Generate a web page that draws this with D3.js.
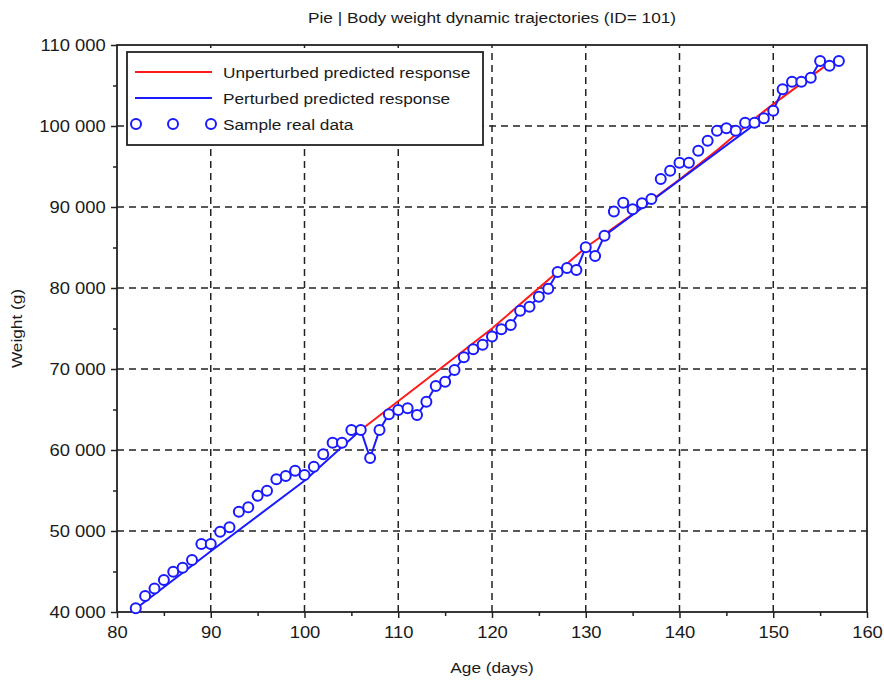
<!DOCTYPE html>
<html>
<head>
<meta charset="utf-8">
<script src="https://cdn.jsdelivr.net/npm/d3@7"></script>
<style>
  html, body { margin: 0; padding: 0; background: #fff; }
  svg { display: block; font-family: "Liberation Sans", Arial, sans-serif; }
</style>
</head>
<body>
<svg id="chart" width="884" height="682"></svg>
<script>
// ---- Data ----
const title = "Pie | Body weight dynamic trajectories (ID= 101)";
const xLabel = "Age (days)";
const yLabel = "Weight (g)";
const legendLabels = ["Unperturbed predicted response", "Perturbed predicted response", "Sample real data"];

const xTicks = [80, 90, 100, 110, 120, 130, 140, 150, 160];
const yTicks = [40000, 50000, 60000, 70000, 80000, 90000, 100000, 110000];
const xMinorTicks = [85, 95, 105, 115, 125, 135, 145, 155];
const yMinorTicks = [45000, 55000, 65000, 75000, 85000, 95000, 105000];

// Sample real data (age in days, weight in g)
const sampleAges = [82, 83, 84, 85, 86, 87, 88, 89, 90, 91,
  92, 93, 94, 95, 96, 97, 98, 99, 100, 101,
  102, 103, 104, 105, 106, 107, 108, 109, 110, 111,
  112, 113, 114, 115, 116, 117, 118, 119, 120, 121,
  122, 123, 124, 125, 126, 127, 128, 129, 130, 131,
  132, 133, 134, 135, 136, 137, 138, 139, 140, 141,
  142, 143, 144, 145, 146, 147, 148, 149, 150, 151,
  152, 153, 154, 155, 156, 157];
const sampleWeights = [40460, 41975, 42900, 43950, 44980, 45470, 46420, 48400, 48400, 49900,
  50450, 52390, 52920, 54360, 54980, 56380, 56790, 57450, 56910, 57940,
  59470, 60900, 60900, 62470, 62470, 59010, 62470, 64400, 64940, 65150,
  64320, 65960, 67900, 68430, 69880, 71450, 72430, 73000, 74000, 74900,
  75430, 77200, 77690, 78930, 79920, 81980, 82470, 82220, 85020, 83950,
  86460, 89440, 90530, 89710, 90450, 90990, 93460, 94480, 95470, 95470,
  96950, 98190, 99420, 99720, 99420, 100410, 100410, 100950, 101890, 104530,
  105470, 105470, 105960, 108030, 107450, 108030];

// Unperturbed predicted response (red) - visible part
const unpertAges = [106, 113, 120, 130, 135, 140, 144, 148, 150, 156];
const unpertWeights = [62470, 68700, 75000, 85000, 89100, 93400, 97000, 100900, 102700, 107800];

// Perturbed predicted response (blue)
const pertAges = [82, 90, 100, 106, 107, 108, 109, 110, 111, 112, 113, 114, 115, 116, 117, 118, 119, 120,
  121, 122, 123, 124, 125, 126, 127, 128, 129, 130, 131, 132, 150, 151, 152, 153, 154, 155, 156, 157];
const pertWeights = [40400, 47500, 56200, 62470, 59010, 62470, 64400, 64940, 65150, 64320, 65960, 67900, 68430, 69880, 71450, 72430, 73000, 74000,
  74900, 75430, 77200, 77690, 78930, 79920, 81980, 82470, 82220, 85020, 83950, 86460, 101890, 104530, 105470, 105470, 105960, 108030, 107450, 108030];

// ---- Layout ----
const W = 884, H = 682;
const margin = { left: 117, right: 17, top: 45, bottom: 70 };
const SX = 1.15; // horizontal text stretch seen in the reference
const svg = d3.select("#chart");
const plotW = W - margin.left - margin.right;
const plotH = H - margin.top - margin.bottom;

const x = d3.scaleLinear().domain([80, 160]).range([margin.left, margin.left + plotW]);
const y = d3.scaleLinear().domain([40000, 110000]).range([margin.top + plotH, margin.top]);

const locale = d3.formatLocale({ decimal: ".", thousands: " ", grouping: [3], currency: ["", ""] });
const fmt = locale.format(",");

const RED = "#ff1a1a", BLUE = "#1a1aff", INK = "#1a1a1a";

function stretchedText(g, tx, ty, size, str, anchor, rot) {
  return g.append("text")
    .attr("transform", `translate(${tx},${ty})` + (rot ? ` rotate(${rot})` : "") + ` scale(${SX},1)`)
    .attr("text-anchor", anchor || "start").attr("font-size", size).attr("fill", INK).text(str);
}

// title
stretchedText(svg, 492, 23, 15, title, "middle");

// grid
const grid = svg.append("g").attr("stroke", "#222").attr("stroke-width", 1.5).attr("stroke-dasharray", "7,5");
grid.selectAll("line.gx").data(xTicks.slice(1, -1)).join("line")
  .attr("x1", d => x(d)).attr("x2", d => x(d)).attr("y1", y(40000)).attr("y2", y(110000));
grid.selectAll("line.gy").data(yTicks.slice(1, -1)).join("line")
  .attr("y1", d => y(d)).attr("y2", d => y(d)).attr("x1", x(80)).attr("x2", x(160));

// minor ticks
const minorX = svg.append("g").attr("transform", `translate(0,${y(40000)})`)
  .call(d3.axisBottom(x).tickValues(xMinorTicks).tickSize(4).tickFormat(""));
const minorY = svg.append("g").attr("transform", `translate(${x(80)},0)`)
  .call(d3.axisLeft(y).tickValues(yMinorTicks).tickSize(4).tickFormat(""));
[minorX, minorY].forEach(g => { g.select(".domain").remove(); g.selectAll("line").attr("stroke", "#222").attr("stroke-width", 1.5); });

// major ticks + labels
const xAxis = svg.append("g").attr("transform", `translate(0,${y(40000)})`)
  .call(d3.axisBottom(x).tickValues(xTicks).tickSize(6).tickPadding(9).tickFormat(d3.format("d")));
const yAxis = svg.append("g").attr("transform", `translate(${x(80)},0)`)
  .call(d3.axisLeft(y).tickValues(yTicks).tickSize(6).tickPadding(5.3).tickFormat(fmt));
[xAxis, yAxis].forEach(g => {
  g.select(".domain").remove();
  g.selectAll("line").attr("stroke", "#222").attr("stroke-width", 1.5);
  g.selectAll("text").attr("font-size", 16).attr("fill", INK)
    .attr("font-family", "Liberation Sans, Arial, sans-serif")
    .attr("transform", `scale(${SX},1)`);
});
yAxis.selectAll("text").attr("x", -(6 + 5.3) / SX);

// frame
svg.append("rect").attr("x", x(80)).attr("y", y(110000)).attr("width", x(160) - x(80)).attr("height", y(40000) - y(110000))
  .attr("fill", "none").attr("stroke", "#222").attr("stroke-width", 1.8);

// axis labels
stretchedText(svg, 492, 673, 15, xLabel, "middle");
stretchedText(svg, 22, (y(40000) + y(110000)) / 2, 15, yLabel, "middle", -90);

// lines
const lineUnp = d3.line().x((d, i) => x(unpertAges[i])).y(d => y(d));
const linePer = d3.line().x((d, i) => x(pertAges[i])).y(d => y(d));
svg.append("path").attr("d", lineUnp(unpertWeights)).attr("fill", "none").attr("stroke", RED).attr("stroke-width", 2);
svg.append("path").attr("d", linePer(pertWeights)).attr("fill", "none").attr("stroke", BLUE).attr("stroke-width", 2);

// sample circles
svg.append("g").selectAll("circle").data(sampleWeights).join("circle")
  .attr("cx", (d, i) => x(sampleAges[i])).attr("cy", d => y(d)).attr("r", 5)
  .attr("fill", "#fff").attr("stroke", BLUE).attr("stroke-width", 2);

// legend
const lg = svg.append("g");
lg.append("rect").attr("x", 127).attr("y", 52).attr("width", 356).attr("height", 93)
  .attr("fill", "#fff").attr("stroke", "#222").attr("stroke-width", 1.8);
const rowY = [72, 98, 124];
lg.append("line").attr("x1", 135).attr("x2", 212).attr("y1", rowY[0]).attr("y2", rowY[0]).attr("stroke", RED).attr("stroke-width", 2);
lg.append("line").attr("x1", 135).attr("x2", 212).attr("y1", rowY[1]).attr("y2", rowY[1]).attr("stroke", BLUE).attr("stroke-width", 2);
lg.selectAll("circle").data([136, 173, 211]).join("circle")
  .attr("cx", d => d).attr("cy", rowY[2]).attr("r", 5).attr("fill", "#fff").attr("stroke", BLUE).attr("stroke-width", 2);
legendLabels.forEach((t, i) => stretchedText(lg, 223, rowY[i] + 5.5, 15, t, "start"));
</script>
</body>
</html>
